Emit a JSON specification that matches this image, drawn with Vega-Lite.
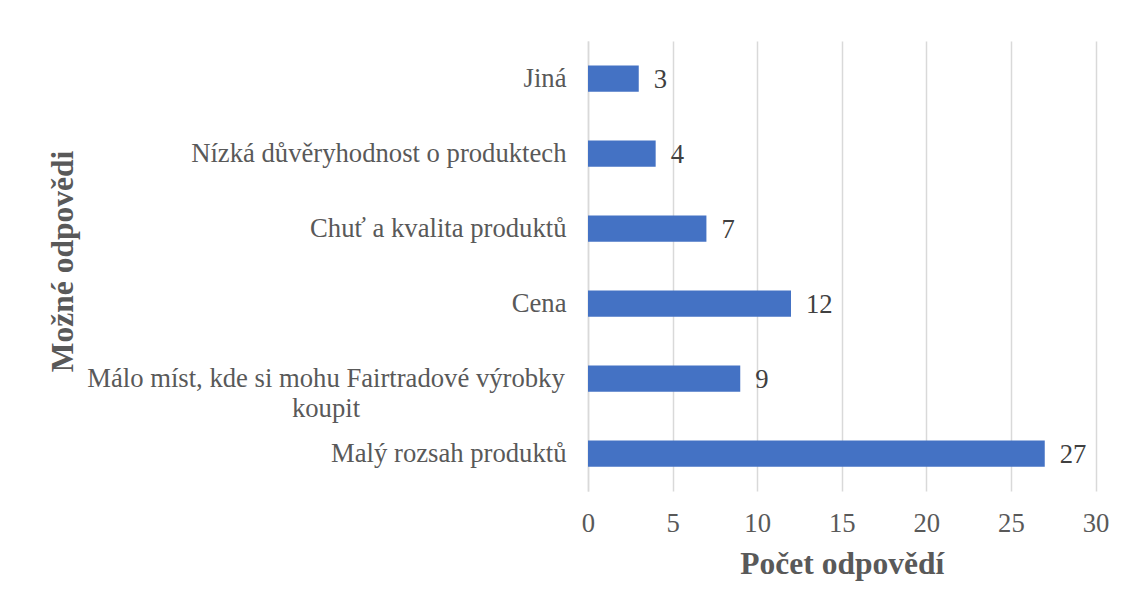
{
  "$schema": "https://vega.github.io/schema/vega-lite/v6.json",
  "autosize": {"type": "none"},
  "padding": {"left": 588, "top": 41, "right": 30, "bottom": 117},
  "width": 507.5,
  "height": 450,
  "background": "white",
  "config": {
    "view": {"stroke": null},
    "font": "Liberation Serif, Times New Roman, serif"
  },
  "data": {
    "values": [
      {"odpoved": "Jiná", "pocet": 3},
      {"odpoved": "Nízká důvěryhodnost o produktech", "pocet": 4},
      {"odpoved": "Chuť a kvalita produktů", "pocet": 7},
      {"odpoved": "Cena", "pocet": 12},
      {"odpoved": "Málo míst, kde si mohu Fairtradové výrobky koupit", "pocet": 9},
      {"odpoved": "Malý rozsah produktů", "pocet": 27}
    ]
  },
  "encoding": {
    "y": {
      "field": "odpoved",
      "type": "nominal",
      "sort": ["Jiná", "Nízká důvěryhodnost o produktech", "Chuť a kvalita produktů", "Cena", "Málo míst, kde si mohu Fairtradové výrobky koupit", "Malý rozsah produktů"],
      "scale": {"paddingInner": 0.65, "paddingOuter": 0.325},
      "axis": {
        "title": "Možné odpovědi",
        "titleFont": "Liberation Serif, Times New Roman, serif",
        "titleFontSize": 31.5,
        "titleFontWeight": "bold",
        "titleColor": "#595959",
        "titleX": -516,
        "titleY": 220,
        "titleAngle": -90,
        "titleBaseline": "alphabetic",
        "titleAlign": "center",
        "labelFont": "Liberation Serif, Times New Roman, serif",
        "labelFontSize": 26.67,
        "labelColor": "#595959",
        "labelPadding": {"condition": {"test": "datum.value === 'Málo míst, kde si mohu Fairtradové výrobky koupit'", "value": 262.5}, "value": 22},
        "labelAlign": {"condition": {"test": "datum.value === 'Málo míst, kde si mohu Fairtradové výrobky koupit'", "value": "center"}, "value": "right"},
        "labelLimit": 600,
        "labelLineHeight": 30,
        "ticks": false,
        "tickSize": 0,
        "domain": true,
        "domainColor": "#D9D9D9",
        "domainWidth": 1.5,
        "grid": false,
        "labelExpr": "datum.value === 'Málo míst, kde si mohu Fairtradové výrobky koupit' ? ['Málo míst, kde si mohu Fairtradové výrobky', 'koupit'] : datum.value"
      }
    }
  },
  "layer": [
    {
      "mark": {"type": "bar", "color": "#4472C4"},
      "encoding": {
        "x": {
          "field": "pocet",
          "type": "quantitative",
          "scale": {"domain": [0, 30], "nice": false},
          "axis": {
            "title": "Počet odpovědí",
            "titleFont": "Liberation Serif, Times New Roman, serif",
            "titleFontSize": 31.5,
            "titleFontWeight": "bold",
            "titleColor": "#595959",
            "titleBaseline": "alphabetic",
            "titleY": 82,
            "values": [0, 5, 10, 15, 20, 25, 30],
            "labelFont": "Liberation Serif, Times New Roman, serif",
            "labelFontSize": 26.67,
            "labelColor": "#595959",
            "labelBaseline": "alphabetic",
            "labelPadding": 40,
            "labelFlush": false,
            "labelOverlap": false,
            "ticks": false,
            "tickSize": 0,
            "domain": false,
            "grid": true,
            "gridColor": "#D9D9D9",
            "gridWidth": 1.5
          }
        }
      }
    },
    {
      "mark": {"type": "text", "align": "left", "baseline": "alphabetic", "dx": 15, "dy": 9.5, "fontSize": 26.67, "font": "Liberation Serif, Times New Roman, serif", "color": "#404040"},
      "encoding": {
        "x": {"field": "pocet", "type": "quantitative"},
        "text": {"field": "pocet", "type": "quantitative"}
      }
    }
  ]
}
